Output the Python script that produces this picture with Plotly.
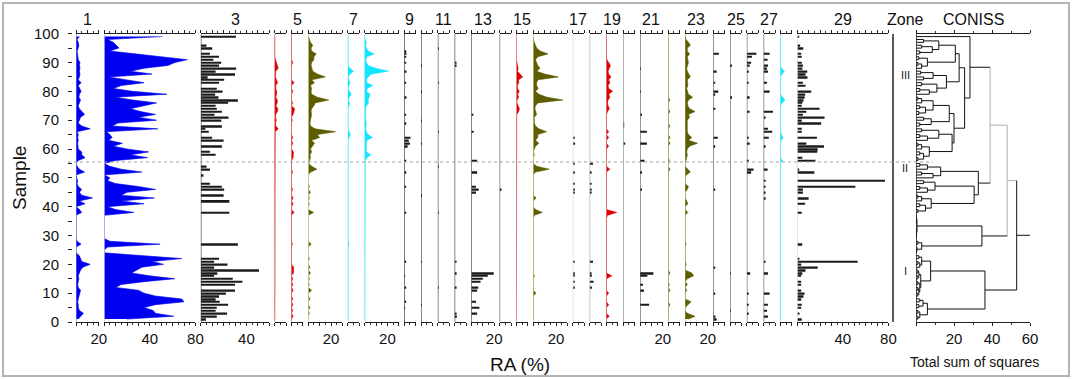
import plotly.graph_objects as go

W, H = 1073, 379
samples = list(range(1, 100))

# ---------------- data (relative abundance, %) ----------------
taxon_01 = [2, 4, 6.5, 3, 2, 2, 1.5, 2, 2.5, 3,
            4, 2, 1.5, 2, 2.5, 2, 3, 4, 6, 12.5,
            5, 4, 3, 0, 0, 0, 4.5, 1, 0, 0,
            0, 0, 0, 0, 0, 0, 0, 5, 3, 0,
            8, 3, 14.5, 5, 3, 5, 2, 1, 1.5, 0.5,
            0, 7.5, 3, 1, 0, 2, 8, 5, 5, 2,
            1.5, 1.5, 2, 1.5, 2, 1, 12.5, 5, 2, 3,
            4, 7.5, 5, 3, 2, 3, 4, 2.5, 3, 4.5,
            3, 2, 4.5, 2, 3, 3.5, 3, 3.5, 3, 3.5,
            2, 1.5, 1.5, 1, 2, 2.5, 2, 1, 3]
taxon_02 = [20, 61, 45, 43, 35, 45, 70, 68, 45, 35,
            30, 10, 15, 35, 62, 40, 24, 28, 33, 52,
            42, 68, 30, 0, 0, 3, 49, 5, 0, 0,
            0, 0, 0, 0, 0, 0, 0, 26, 10, 3,
            35, 15, 44, 15, 20, 45, 30, 10, 3, 5,
            0, 33, 15, 5, 0, 10, 38, 23, 39, 20,
            8, 16, 4, 7, 5, 2, 47, 7, 12, 46,
            30, 45, 32, 23, 35, 46, 25, 10, 55, 25,
            8, 15, 35, 20, 4, 42, 23, 35, 56, 62,
            73, 50, 25, 5, 13, 10, 8, 3, 51]
taxon_03 = {99: 30.8, 96: 5, 95: 10, 93: 8, 92: 16, 91: 11, 90: 18, 89: 16, 88: 31, 87: 13,
            86: 30, 85: 6, 84: 20.5, 83: 16, 81: 14, 80: 19, 79: 12.6, 78: 15.5, 77: 32.5,
            76: 24, 75: 13, 74: 14, 73: 18.5, 72: 12, 71: 24.3, 70: 18, 68: 18.5, 67: 4, 66: 7,
            64: 10, 63: 20, 61: 18.5, 59: 8, 58: 13, 54: 5, 53: 8, 51: 2.3, 48: 8, 47: 18.5,
            46: 20.5, 44: 20, 42: 25, 38: 25, 27: 32.5, 22: 16, 21: 11.7, 20: 23.4, 19: 11.7,
            18: 51, 17: 14.5, 16: 11.7, 15: 28, 14: 36.5, 13: 30, 11: 30, 10: 22, 9: 16, 8: 13,
            7: 16.5, 6: 24, 5: 14, 4: 13, 3: 23, 2: 14, 1: 4.5}
taxon_04 = {91: 0.5, 90: 1.5, 89: 2.5, 88: 3.2, 87: 1, 86: 0.8, 85: 0.7, 84: 1.5, 83: 2.6, 82: 1,
            81: 1, 80: 1.8, 79: 1.8, 78: 1, 77: 2.3, 76: 2.3, 75: 1.2, 74: 2.9, 73: 2.5, 72: 1,
            71: 0.8, 70: 1.5, 69: 0.7, 68: 1, 67: 3.2, 66: 0.5}
taxon_05 = {90: 1.2, 83: 2.3, 80: 1.2, 76: 1, 74: 2.9, 73: 2, 72: 1.5, 70: 0.8, 64: 1.2, 62: 1.2,
            59: 1.8, 58: 1.8, 57: 1.5, 52: 1, 46: 1, 43: 1.5, 41: 1.5, 38: 2.3, 27: 0.8, 19: 2,
            18: 2, 17: 1.8, 15: 1.2, 13: 1.2, 11: 1.5, 8: 1.2, 6: 1.2, 4: 1.2, 2: 1.5}
taxon_06 = {99: 0.5, 98: 1, 97: 2, 96: 4, 95: 2.5, 94: 3, 93: 7, 92: 5, 91: 5, 90: 3, 89: 2.5,
            88: 3, 87: 4, 86: 8, 85: 15, 84: 3, 83: 5.5, 82: 2, 81: 3, 80: 2.5, 79: 3, 78: 8,
            77: 18, 76: 6, 75: 5, 74: 3, 73: 2.5, 72: 3, 71: 3, 70: 2, 69: 1.5, 68: 2, 67: 6,
            66: 24, 65: 8, 64: 10, 63: 3, 62: 5.5, 61: 4, 60: 2, 59: 3, 58: 1.5, 57: 2, 56: 1,
            55: 0.5, 54: 3, 53: 7.6, 52: 2, 47: 1, 45: 2, 43: 1, 41: 1, 38: 4.7, 27: 2.6, 22: 1,
            19: 1.5, 17: 2, 15: 1, 13: 1, 11: 3, 8: 1.5, 5: 1.5, 3: 1}
taxon_07 = {88: 2, 87: 5, 86: 2, 84: 1, 83: 2, 82: 1, 80: 1.5, 79: 3, 78: 1.5, 76: 1.5, 75: 1,
            66: 1, 65: 2.3, 64: 1, 38: 0.6, 27: 1}
taxon_08 = {98: 0.5, 97: 1.5, 96: 1, 95: 1.5, 94: 3, 93: 8.5, 92: 2, 91: 1, 90: 1.5, 89: 3,
            88: 10, 87: 21, 86: 6, 85: 3, 84: 1.5, 83: 2, 82: 7, 81: 2.5, 80: 1.5, 79: 4.7,
            78: 4, 77: 3, 76: 3.5, 75: 1.5, 74: 1, 73: 0.8, 72: 1, 71: 0.8, 70: 1, 69: 1.5,
            68: 1.5, 67: 1, 66: 1.5, 65: 3, 64: 7, 63: 2, 62: 1.5, 61: 1, 60: 1.5, 59: 1.5,
            58: 5.6, 57: 2, 56: 0.5}
taxon_09 = {94: 1.5, 93: 2, 92: 1.5, 90: 1.5, 87: 2, 83: 1, 78: 2, 72: 1, 69: 1, 64: 5.5,
            63: 4, 62: 5, 61: 3, 56: 1.5, 52: 1, 47: 1, 38: 1.5, 21: 1, 16: 0.8, 12: 1, 7: 1, 5: 0.8}
taxon_10 = {89: 0.6, 80: 0.6, 70: 0.6, 62: 0.6, 44: 0.6, 21: 0.6, 6: 0.6}
taxon_11 = {95: 0.5, 83: 0.5, 66: 0.5, 54: 0.5, 38: 0.5, 12: 0.5}
taxon_12 = {90: 1, 89: 1, 21: 1, 17: 1.5, 12: 1, 3: 1.5, 2: 2}
taxon_13 = {72: 1.5, 66: 2, 56: 5, 52: 5, 47: 4, 46: 6.4, 45: 4, 17: 19.6, 16: 14.4, 15: 10,
            14: 8, 12: 6, 11: 5, 7: 4, 5: 7, 3: 5}
taxon_14 = {46: 1}
taxon_15 = {89: 1, 88: 1.5, 87: 1, 86: 3, 85: 5.5, 84: 2, 83: 2, 82: 0.8, 81: 1, 80: 2.5,
            79: 1, 78: 2, 77: 0.5, 76: 0.5, 75: 1.5, 74: 2.6, 73: 2, 72: 0.3}
taxon_16 = {97: 1, 96: 2, 95: 3, 94: 6, 93: 13, 92: 4, 91: 2, 90: 3, 89: 4, 88: 6, 87: 3,
            86: 10, 85: 22, 84: 4, 83: 3, 82: 3, 81: 4.4, 80: 2, 79: 5, 78: 12, 77: 26, 76: 4,
            75: 2, 74: 1.5, 73: 2, 72: 3, 71: 1, 70: 1, 69: 1, 68: 2, 67: 5, 66: 11.7, 65: 4,
            64: 4, 63: 2, 62: 5, 61: 2, 60: 1, 58: 1, 54: 3, 53: 14, 52: 2, 43: 2.6, 39: 2,
            38: 8, 37: 1, 16: 1, 10: 2.5}
taxon_17 = {64: 1.5, 62: 2, 55: 1.5, 52: 1.5, 48: 1, 46: 1.5, 45: 1.5, 21: 1.5, 17: 1.5,
            16: 1.5, 14: 1.5, 12: 1.5}
taxon_18 = {55: 3, 52: 1.5, 48: 1, 46: 1.5, 45: 1, 21: 3, 17: 1.5, 16: 2, 14: 3.5, 12: 2}
taxon_19 = {91: 0.5, 90: 2, 89: 3.5, 88: 2.5, 87: 1.5, 86: 2, 85: 4, 84: 2, 83: 3, 82: 1.5,
            81: 2, 80: 5.5, 79: 2, 78: 3, 77: 1.5, 76: 1, 75: 1.5, 74: 2.6, 73: 1, 66: 2, 64: 2,
            61: 2, 53: 3, 38: 9, 37: 1, 16: 4.7, 10: 2, 6: 2, 2: 2.5}
taxon_20 = {69: 0.8, 68: 0.8, 62: 1}
taxon_21 = {88: 0.5, 80: 0.5, 72: 1, 66: 6, 62: 6, 56: 4, 52: 1, 46: 1, 17: 11.7, 16: 6.4,
            13: 2.6, 11: 3.5, 6: 8}
taxon_22 = {77: 1.5, 73: 1.5, 68: 1.5, 64: 1.5, 62: 1.5, 56: 1, 53: 1.5, 17: 1.5, 13: 1,
            11: 1.5, 6: 1.5}
taxon_23 = {98: 1, 97: 3, 96: 4.7, 95: 2, 94: 2, 93: 4, 92: 2, 91: 2.5, 90: 3, 89: 2, 88: 1.5,
            87: 2, 86: 3, 85: 4.7, 84: 2, 83: 2, 82: 2.5, 81: 1.5, 80: 2, 79: 3, 78: 6.7, 77: 3,
            76: 2, 75: 2.5, 74: 4, 73: 8.8, 72: 3, 71: 4, 70: 2, 69: 1.5, 68: 1.5, 67: 2, 66: 2,
            65: 3, 64: 6, 63: 3, 62: 11, 61: 4, 60: 2, 59: 1.5, 58: 2, 57: 1.5, 56: 1, 53: 2.5,
            52: 4.7, 51: 1, 47: 3, 46: 2, 42: 1.5, 41: 2.5, 38: 2.5, 27: 1, 20: 1, 17: 6,
            16: 7.6, 15: 2, 13: 2, 11: 1.5, 7: 5.3, 6: 3, 3: 2, 2: 8.8, 1: 3}
taxon_24 = {93: 5, 87: 3, 83: 1.5, 80: 4.4, 79: 1.5, 74: 2, 64: 4, 61: 1.5, 46: 1, 19: 1,
            10: 1.5, 2: 2, 1: 3}
taxon_25 = {89: 1, 78: 1, 17: 0.8, 4: 0.8}
taxon_26 = {93: 8.4, 92: 4.5, 90: 3.8, 89: 2.5, 87: 1.5, 83: 1.5, 78: 2.5, 73: 2.5, 64: 1.5,
            62: 2.5, 56: 1.5, 53: 5.9, 52: 3.8, 17: 2.9, 10: 1.5, 6: 1.5, 3: 1.5}
taxon_27 = {93: 5.3, 91: 3.5, 89: 3.8, 88: 3, 87: 3.8, 83: 3, 80: 5.3, 73: 8.2, 71: 1.5,
            67: 3.8, 66: 7.6, 64: 4.5, 61: 1.5, 53: 3.5, 49: 1, 47: 1, 45: 1, 43: 1, 21: 1.5,
            17: 3.8, 10: 5.3, 6: 3.8, 4: 3, 2: 3.8}
taxon_28 = {88: 1, 87: 3.5, 86: 1.5, 78: 2, 77: 4, 76: 1.5, 65: 1, 64: 2.3, 63: 0.8, 56: 1.8}
taxon_29 = {99: 1.5, 96: 2.6, 95: 5.3, 93: 3.5, 92: 4, 90: 4, 89: 5, 88: 4.5, 87: 8.8, 86: 7.3,
            85: 9, 83: 5, 82: 7.3, 80: 12.3, 79: 7, 78: 6.5, 77: 5.5, 76: 4.5, 75: 4, 74: 19.6,
            73: 8, 72: 5, 71: 24, 70: 4, 69: 21, 67: 4, 66: 4, 64: 17.3, 62: 8, 61: 23.5,
            60: 18, 59: 17.6, 57: 4.5, 56: 16, 53: 1.2, 52: 15, 49: 77, 47: 51, 46: 5, 45: 5,
            43: 10, 41: 7, 38: 4, 27: 4.4, 22: 2, 21: 53, 20: 3.5, 19: 18, 18: 7.3, 17: 4.5,
            16: 3.5, 14: 3.5, 13: 3.5, 11: 3.5, 10: 6.5, 9: 5.5, 8: 3.5, 6: 4, 5: 3.5, 3: 2, 1: 4}

taxa = [taxon_01, taxon_02, taxon_03, taxon_04, taxon_05, taxon_06, taxon_07, taxon_08,
        taxon_09, taxon_10, taxon_11, taxon_12, taxon_13, taxon_14, taxon_15, taxon_16,
        taxon_17, taxon_18, taxon_19, taxon_20, taxon_21, taxon_22, taxon_23, taxon_24,
        taxon_25, taxon_26, taxon_27, taxon_28, taxon_29]

# CONISS dendrogram: (height, child, child[, 'g' = grey]) ; leaves are sample numbers
C1a = (22.7,
       (20.7, (12, (4, 98, 97), (8.6, (3, 96, 95), (2, 94, 93))),
              (6, (1.5, 92, 91), (3, (1, 90, 89), 88))),
       (16, (9, (2.5, 87, 86), (4, 85, 84)),
            (11, (3, 83, 82), (7, (2, 81, 80), 79))))
C1b = (20,
       (17.5, (9, (3, (1, 78, 77), 76), (5, (2, 75, 74), (1.5, 73, 72))),
              (8, (4, 71, 70), (2, 69, 68))),
       (19, (12, (3, 67, 66), (6, (2, 65, 64), 63)),
            (7, (3, (1, 62, 61), 60), (4, (2, 59, 58), (1, 57, 56)))))
N1 = (28.4, 99, (25.6, C1a, C1b))
A1b = (32.8, (13, (6, (2, 55, 54), 53), (9, (3, 52, 51), 50)),
       (30.6, (10, (4, 49, 48), (6, (2, 47, 46), 45)),
              (8, (3, (1, 44, 43), 42), (5, (2, 41, 40), (1, 39, 38)))))
A2 = (34.7, (0.5, (0.3, (0.2, 37, 36), (0.2, 35, 34)),
                  (0.3, (0.2, 33, 32), (0.2, (0.1, 31, 30), 29))),
      (3, (1, 28, 27), (0.5, 26, (0.2, 25, 24))))
B = (36.3, (6, (2, (1, 1, 2), (1, 3, 4)), (3.7, (1.5, 5, 6), (2, 7, 8))),
     (7.7, (3, (1.5, 23, 22), (2, (1, 21, 20), 19)),
           (2.5, (1.5, (1, 18, 17), (1, 16, 15)),
                 (2, (1, 14, 13), (1.5, (1, 12, 11), (1, 10, 9))))))
CONISS_TREE = (53, (48, (39, N1, A1b, 'g'), A2, 'g'), B)
CONISS_TOP = 60

zone_names = ['III', 'II', 'I']
zone_label_at = [85.7, 53.4, 17.7]
zone_boundary = 55.5

# ---------------- styling / layout ----------------
panel_max = [20, 80, 60, 10, 10, 30, 10, 30, 10, 10, 10, 10, 20, 10, 10, 30, 10, 10, 10, 10,
             20, 10, 20, 10, 10, 10, 10, 10, 80]
kind = ['a', 'a', 'b', 'a', 'a', 'a', 'a', 'a', 'b', 'b', 'b', 'b', 'b', 'b', 'a', 'a', 'b', 'b',
        'a', 'b', 'b', 'a', 'a', 'b', 'b', 'b', 'b', 'a', 'b']
BLUE, RED, OLIVE, CYAN, BLK = '#0000f0', '#e00000', '#5c5c00', '#12e6ff', '#1a1a1a'
fillc = [BLUE, BLUE, BLK, RED, RED, OLIVE, CYAN, CYAN, BLK, BLK, BLK, BLK, BLK, BLK, RED, OLIVE,
         BLK, BLK, RED, BLK, BLK, OLIVE, OLIVE, BLK, BLK, BLK, BLK, CYAN, BLK]
basec = ['#7a7ad0', '#b4b4dc', '#333333', '#cc4444', '#cc4444', '#c8c890', '#40e0f0', '#40e0f0',
         '#333333', '#333333', '#333333', '#333333', '#333333', '#555555', '#d07070', '#b0b060',
         '#d4d4d4', '#a0a0a0', '#cc4444', '#888888', '#555555', '#a0a050', '#a0a050', '#555555',
         '#555555', '#555555', '#555555', '#40e0f0', '#d4d4d4']
labels = {1: [20], 2: [40, 80], 3: [40], 6: [20], 8: [20], 13: [20], 16: [20], 21: [20],
          23: [20], 29: [40, 80]}

UNIT, GAP, X0 = 1.14, 5.4, 76.0
Y_TOP, Y_BOT = 33.7, 322.0
ydom = [1 - Y_BOT / H, 1 - Y_TOP / H]
FONT = 'Liberation Sans, Arial, sans-serif'

fig = go.Figure()
layout = {}
shapes = []
ann = []


def axname(i):
    return 'x' if i == 1 else f'x{i}'


def axkey(i):
    return 'xaxis' if i == 1 else f'xaxis{i}'


def base_axis(dom, rng, tv, tt, minor_dt):
    return dict(domain=dom, range=rng, anchor='y', showline=True, linecolor='#222', linewidth=1,
                mirror='ticks', ticks='outside', ticklen=3, tickwidth=1, tickcolor='#222',
                tickmode='array', tickvals=tv, ticktext=tt, automargin=False,
                minor=dict(dtick=minor_dt, tick0=0, ticklen=2, ticks='outside', tickcolor='#333',
                           showgrid=False),
                showgrid=False, zeroline=False, fixedrange=True,
                tickfont=dict(size=15, color='#111', family=FONT))


x = X0
for i in range(1, 30):
    m = panel_max[i - 1]
    x1 = x + m * UNIT
    dom = [x / W, x1 / W]
    tv = list(range(0, m + 1, 10))
    tt = [str(v) if v in labels.get(i, []) else '' for v in tv]
    layout[axkey(i)] = base_axis(dom, [0, m], tv, tt, 5)
    d = taxa[i - 1]
    if isinstance(d, dict):
        vals = [d.get(s, 0) for s in samples]
    else:
        vals = d
    c = fillc[i - 1]
    if kind[i - 1] == 'a':
        fig.add_trace(go.Scatter(x=vals, y=samples, mode='lines', fill='tozerox',
                                 line=dict(color=c, width=0.6), fillcolor=c,
                                 xaxis=axname(i), yaxis='y', hoverinfo='skip'))
    else:
        ys = [s for s, v in zip(samples, vals) if v > 0]
        xs = [v for v in vals if v > 0]
        fig.add_trace(go.Bar(x=xs, y=ys, orientation='h', width=0.55,
                             marker=dict(color=c, line=dict(width=0)),
                             xaxis=axname(i), yaxis='y', hoverinfo='skip'))
    shapes.append(dict(type='line', xref=axname(i), yref='y', x0=0, x1=0, y0=0, y1=100,
                       line=dict(color=basec[i - 1], width=1.2), layer='above'))
    if i % 2 == 1:
        ann.append(dict(text=str(i), xref=f'{axname(i)} domain', x=0.5, yref='paper',
                        y=1 - 19 / H, showarrow=False, font=dict(size=16, color='#111'),
                        xanchor='center', yanchor='middle'))
    x = x1 + GAP

# CONISS axis (axis 30)
CX0, CX1 = 916.0, 1030.0
layout['xaxis30'] = base_axis([CX0 / W, CX1 / W], [0, 60], [0, 20, 40, 60],
                              ['', '20', '40', '60'], 10)

seg_black_x, seg_black_y, seg_grey_x, seg_grey_y = [], [], [], []


def add_seg(grey, xs, ys):
    if grey:
        seg_grey_x.extend(list(xs) + [None]); seg_grey_y.extend(list(ys) + [None])
    else:
        seg_black_x.extend(list(xs) + [None]); seg_black_y.extend(list(ys) + [None])


def is_grey(node):
    return isinstance(node, tuple) and len(node) > 3


def walk(node):
    if not isinstance(node, tuple):
        return float(node), 0.0
    h, a, b = node[0], node[1], node[2]
    pa, ha = walk(a)
    pb, hb = walk(b)
    add_seg(is_grey(node), (h, h), (pa, pb))
    add_seg(is_grey(a), (ha, h), (pa, pa))
    add_seg(is_grey(b), (hb, h), (pb, pb))
    return (pa + pb) / 2, h


rp, rh = walk(CONISS_TREE)
add_seg(False, (rh, CONISS_TOP), (rp, rp))
fig.add_trace(go.Scatter(x=seg_grey_x, y=seg_grey_y, mode='lines',
                         line=dict(color='#b0b0b0', width=1), xaxis='x30', yaxis='y',
                         hoverinfo='skip'))
fig.add_trace(go.Scatter(x=seg_black_x, y=seg_black_y, mode='lines',
                         line=dict(color='#111', width=1), xaxis='x30', yaxis='y',
                         hoverinfo='skip'))
shapes.append(dict(type='line', xref='x30', yref='y', x0=0, x1=0, y0=0, y1=100,
                   line=dict(color='#222', width=1.5)))

# zone column line and zone boundary
shapes.append(dict(type='line', xref='paper', yref='y', x0=893 / W, x1=893 / W, y0=0, y1=100,
                   line=dict(color='#222', width=1.5)))
shapes.append(dict(type='line', xref='paper', yref='y', x0=68 / W, x1=933 / W,
                   y0=zone_boundary, y1=zone_boundary,
                   line=dict(color='#a0a0a0', width=1, dash='dot')))
# frame
shapes.append(dict(type='rect', xref='paper', yref='paper', x0=3 / W, x1=1069 / W,
                   y0=1 - 376 / H, y1=1 - 3 / H, line=dict(color='#b4b4b4', width=2)))

for name, s in zip(zone_names, zone_label_at):
    ann.append(dict(text=name, xref='paper', x=905 / W, yref='y', y=s, showarrow=False,
                    font=dict(size=11, color='#222'), xanchor='center', yanchor='middle'))

ann += [
    dict(text='Zone', xref='paper', x=905 / W, yref='paper', y=1 - 19 / H, showarrow=False,
         font=dict(size=16, color='#111'), xanchor='center', yanchor='middle'),
    dict(text='CONISS', xref='paper', x=973 / W, yref='paper', y=1 - 19 / H, showarrow=False,
         font=dict(size=16, color='#111'), xanchor='center', yanchor='middle'),
    dict(text='Sample', xref='paper', x=20 / W, yref='paper', y=1 - 178 / H, showarrow=False,
         textangle=-90, font=dict(size=19, color='#111'), xanchor='center', yanchor='middle'),
    dict(text='RA (%)', xref='paper', x=520 / W, yref='paper', y=1 - 364 / H, showarrow=False,
         font=dict(size=19, color='#111'), xanchor='center', yanchor='middle'),
    dict(text='Total sum of squares', xref='paper', x=974 / W, yref='paper', y=1 - 362 / H,
         showarrow=False, font=dict(size=14, color='#111'), xanchor='center', yanchor='middle'),
]

layout['yaxis'] = dict(domain=ydom, range=[0, 100], anchor='free', position=72 / W,
                       showline=False, ticks='outside', ticklen=4, tickcolor='#222',
                       tickmode='array', tickvals=list(range(0, 101, 10)), automargin=False,
                       minor=dict(dtick=5, tick0=0, ticklen=4, ticks='outside', tickcolor='#222',
                                  showgrid=False),
                       showgrid=False, zeroline=False, fixedrange=True, ticklabelstandoff=6,
                       tickfont=dict(size=15, color='#111', family=FONT))

fig.update_layout(**layout)
fig.update_layout(width=W, height=H, autosize=False, margin=dict(l=0, r=0, t=0, b=0, pad=0),
                  paper_bgcolor='white', plot_bgcolor='white', showlegend=False,
                  barmode='overlay', font=dict(family=FONT, color='#111'),
                  shapes=shapes, annotations=ann)
fig.write_html('out.html', config={'displayModeBar': False},
               post_script="document.body.style.margin='0px';"
                           "document.documentElement.style.overflow='hidden';")
